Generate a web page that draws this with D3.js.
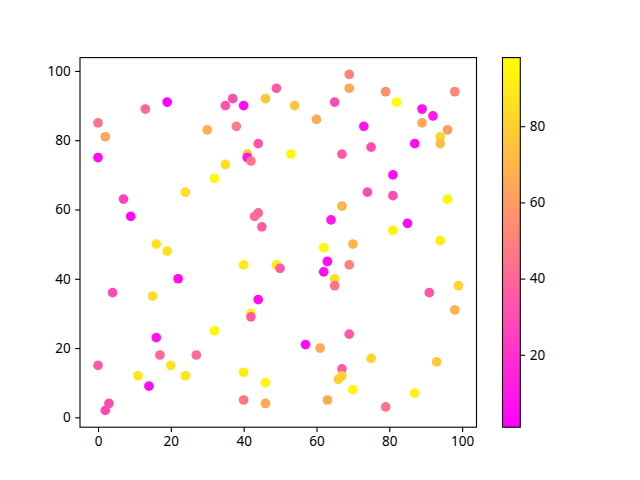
<!DOCTYPE html>
<html><head><meta charset="utf-8">
<script src="https://cdn.jsdelivr.net/npm/d3@7"></script>
<style>body{margin:0;background:#fff}svg text{font-family:"Noto Sans",sans-serif;font-size:13.5px;fill:#000}</style>
</head><body><svg id="c" width="640" height="480"></svg>
<script>
const xs = [69,49,69,79,98,37,35,40,46,54,65,60,30,38,44,41,41,42,53,67,35,32,0,2,13,19,0,82,89,92,89,96,94,94,73,75,87,81,7,9,24,16,19,22,4,15,44,43,45,67,64,62,63,62,65,65,40,49,50,44,74,81,96,85,81,94,70,69,91,99,16,17,27,0,20,11,24,14,3,2,32,42,42,57,61,40,46,40,46,63,67,66,67,98,69,75,93,70,87,79];
const ys = [99,95,95,94,94,92,90,90,92,90,91,86,83,84,79,76,75,74,76,76,73,69,85,81,89,91,75,91,89,87,85,83,81,79,84,78,79,70,63,58,65,50,48,40,36,35,59,58,55,61,57,49,45,42,40,38,44,44,43,34,65,64,63,56,54,51,50,44,36,38,23,18,18,15,15,12,12,9,4,2,25,30,29,21,20,13,10,5,4,5,14,11,12,31,24,17,16,8,7,3];
const cs = [50,35,65,55,52,30,32,5,75,75,30,65,67,48,33,75,8,45,95,35,85,95,45,65,40,1,5,98,8,10,65,60,82,72,8,30,5,5,25,3,85,87,87,5,30,85,40,42,35,70,10,95,5,5,85,45,90,90,35,5,30,30,95,5,93,92,70,50,33,82,8,40,42,35,87,88,88,5,30,30,95,93,35,5,65,92,95,45,65,65,35,80,80,68,35,82,78,95,93,45];
const xTicks = [0,20,40,60,80,100];
const yTicks = [0,20,40,60,80,100];
const cTicks = [20,40,60,80];

const svg = d3.select("#c");
const L=80, R=476.5, T=57.6, B=427.2;
const cbL=502.5, cbR=520.3;
const pad = (mn,mx)=>[mn-(mx-mn)*0.05, mx+(mx-mn)*0.05];
const x = d3.scaleLinear().domain(pad(d3.min(xs),d3.max(xs))).range([L,R]);
const y = d3.scaleLinear().domain(pad(d3.min(ys),d3.max(ys))).range([B,T]);
const cext = d3.extent(cs);
const spring = t => d3.rgb(255, 255*t, 255*(1-t)).toString();
const cnorm = d3.scaleLinear().domain(cext).range([0,1]).clamp(true);
const color = v => spring(cnorm(v));

const g = svg.append("g");
g.selectAll("circle").data(d3.range(xs.length)).join("circle")
 .attr("cx",i=>x(xs[i])).attr("cy",i=>y(ys[i])).attr("r",4.85)
 .attr("fill",i=>color(cs[i]));

svg.append("rect").attr("x",L).attr("y",T).attr("width",R-L).attr("height",B-T)
 .attr("fill","none").attr("stroke","#000").attr("stroke-width",1.1);

const xa = svg.append("g").attr("transform",`translate(0,${B})`)
 .call(d3.axisBottom(x).tickValues(xTicks).tickSize(4.9).tickPadding(4.5).tickFormat(d3.format("d")));
const ya = svg.append("g").attr("transform",`translate(${L},0)`)
 .call(d3.axisLeft(y).tickValues(yTicks).tickSize(4.9).tickPadding(4.5).tickFormat(d3.format("d")));
[xa,ya].forEach(a=>{a.select(".domain").remove();a.selectAll("line").attr("stroke","#000").attr("stroke-width",1.1);
 a.selectAll("text").attr("font-size",null).attr("font-family",null);});
xa.attr("font-size",null).attr("font-family",null);ya.attr("font-size",null).attr("font-family",null);

// colorbar
const cy = d3.scaleLinear().domain(cext).range([B,T]);
const grad = svg.append("defs").append("linearGradient").attr("id","gr")
 .attr("x1","0").attr("y1","1").attr("x2","0").attr("y2","0");
d3.range(0,1.0001,0.05).forEach(t=>grad.append("stop").attr("offset",t).attr("stop-color",spring(t)));
svg.append("rect").attr("x",cbL).attr("y",T).attr("width",cbR-cbL).attr("height",B-T)
 .attr("fill","url(#gr)").attr("stroke","#000").attr("stroke-width",1.1);
const ca = svg.append("g").attr("transform",`translate(${cbR},0)`)
 .call(d3.axisRight(cy).tickValues(cTicks).tickSize(4.9).tickPadding(4.5).tickFormat(d3.format("d")));
ca.select(".domain").remove();
ca.selectAll("line").attr("stroke","#000").attr("stroke-width",1.1);
ca.attr("font-size",null).attr("font-family",null);
</script></body></html>
